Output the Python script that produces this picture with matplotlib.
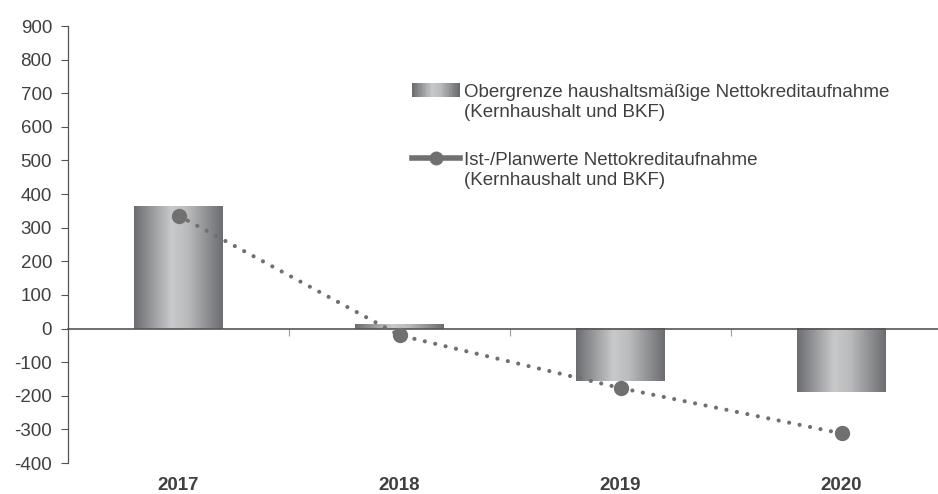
import numpy as np
import matplotlib
matplotlib.use("Agg")
import matplotlib.pyplot as plt
from matplotlib.colors import LinearSegmentedColormap
from matplotlib.lines import Line2D
from matplotlib.patches import Rectangle
from matplotlib.legend_handler import HandlerBase

years = ["2017", "2018", "2019", "2020"]
obergrenze = [363, 12, -155, -190]
ist_plan = [336, -20, -177, -312]
yticks = list(range(-400, 1000, 100))

bar_label = "Obergrenze haushaltsmäßige Nettokreditaufnahme\n(Kernhaushalt und BKF)"
line_label = "Ist-/Planwerte Nettokreditaufnahme\n(Kernhaushalt und BKF)"

text_col = "#404040"
dot_col = "#707070"
fs = 13.5

# dark edges, light centre, like a metal cylinder
grad = LinearSegmentedColormap.from_list(
    "cyl", [(0.0, "#6c6d70"), (0.42, "#c8c9cb"), (0.6, "#babbbd"), (1.0, "#6c6d70")])


class GradientHandler(HandlerBase):
    # handle sits on the first text line, not the middle of both
    def create_artists(self, legend, orig, xd, yd, w, h, fontsize, trans):
        n = 30
        up = fontsize * 0.62
        arts = []
        for i in range(n):
            r = Rectangle((xd + w * i / n, yd + up), w / n + 0.3, h,
                          facecolor=grad(i / (n - 1)), edgecolor="none", transform=trans)
            arts.append(r)
        return arts


class LineMarkerHandler(HandlerBase):
    def create_artists(self, legend, orig, xd, yd, w, h, fontsize, trans):
        up = fontsize * 0.62
        yc = yd + up + h / 2
        ln = Line2D([xd, xd + w], [yc, yc], color=dot_col, lw=4, transform=trans)
        mk = Line2D([xd + w / 2], [yc], color=dot_col, marker="o", ms=9,
                    linestyle="none", transform=trans)
        return [ln, mk]


plt.rcParams["font.family"] = ["Liberation Sans", "DejaVu Sans"]

fig = plt.figure(figsize=(9.38, 4.94), dpi=100)
ax = fig.add_axes([68 / 938, 1 - 463 / 494, 1 - 68 / 938, 437 / 494])

x = np.arange(len(years))
width = 0.4
g = np.linspace(0, 1, 256).reshape(1, -1)
for xi, v in zip(x, obergrenze):
    ax.imshow(g, cmap=grad, aspect="auto", interpolation="bilinear",
              extent=[xi - width / 2, xi + width / 2, min(0, v), max(0, v)], zorder=2)

ax.plot(x, ist_plan, color=dot_col, lw=3.0, linestyle=(0, (0.01, 2.55)),
        dash_capstyle="round", zorder=3)
ax.plot(x, ist_plan, "o", color=dot_col, ms=10, zorder=4)

ax.set_xlim(-0.5, -0.5 + 870 / 221)
ax.set_ylim(-400, 900)
ax.set_yticks(yticks)
ax.set_yticklabels([str(t) for t in yticks], fontsize=fs, color=text_col)
ax.tick_params(axis="y", length=5, width=0.8, color="#555555", pad=6.5)

ax.spines["top"].set_visible(False)
ax.spines["right"].set_visible(False)
ax.spines["left"].set_color("#555555")
ax.spines["left"].set_linewidth(0.9)
ax.spines["bottom"].set_position(("data", 0))
ax.spines["bottom"].set_color("#555555")
ax.spines["bottom"].set_linewidth(1.2)
ax.spines["bottom"].set_zorder(2.5)
ax.set_xticks([0.5, 1.5, 2.5])
ax.set_xticklabels([])
ax.tick_params(axis="x", length=5, width=0.8, color="#999999")

for xi, yr in zip(x, years):
    ax.text(xi, -0.052, yr, transform=ax.get_xaxis_transform(), ha="center",
            va="center", fontsize=fs, fontweight="bold", color=text_col)

handles = [Rectangle((0, 0), 1, 1), Line2D([], [])]
leg = fig.legend(handles, [bar_label, line_label],
                 handler_map={Rectangle: GradientHandler(), Line2D: LineMarkerHandler()},
                 loc="upper left", bbox_to_anchor=(412 / 938, 1 - 84 / 494),
                 frameon=False, fontsize=fs, handlelength=2.55, handleheight=0.75,
                 handletextpad=0.2, labelspacing=1.7, borderaxespad=0, borderpad=0)
for t in leg.get_texts():
    t.set_color(text_col)

fig.savefig("out.png", dpi=100)
